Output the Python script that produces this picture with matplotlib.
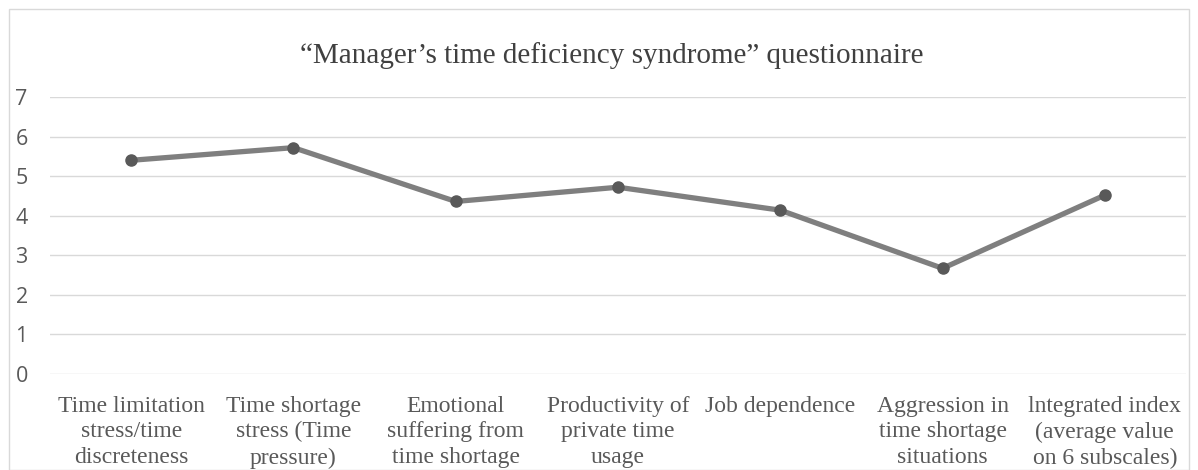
import matplotlib.pyplot as plt
from matplotlib.patches import Rectangle

# scale labels and mean scores
categories = [
    'Time limitation\nstress/time\ndiscreteness',
    'Time shortage\nstress (Time\npressure)',
    'Emotional\nsuffering from\ntime shortage',
    'Productivity of\nprivate time\nusage',
    'Job dependence',
    'Aggression in\ntime shortage\nsituations',
    'lntegrated index\n(average value\non 6 subscales)',
]
scores = [5.40, 5.72, 4.36, 4.72, 4.14, 2.67, 4.52]
yticks = [0, 1, 2, 3, 4, 5, 6, 7]

fig = plt.figure(figsize=(11.98, 4.70), dpi=100)
ax = fig.add_axes([50 / 1198, (470 - 374) / 470, 1136 / 1198, 277 / 470])

x = list(range(len(categories)))
ax.plot(x, scores, color='#7f7f7f', linewidth=3.8, marker='o', markersize=8,
        markerfacecolor='#595959', markeredgecolor='#595959', zorder=3)

ax.set_xlim(-0.5, len(categories) - 0.5)
ax.set_ylim(0, 7)
ax.set_yticks(yticks)
ax.set_yticklabels([str(v) for v in yticks], fontsize=15.5, color='#595959',
                   family='Open Sans')
ax.set_xticks(x)
ax.set_xticklabels(categories, fontsize=17, color='#595959',
                   family='Liberation Serif', linespacing=1.3, va='top')
ax.tick_params(axis='both', length=0)
ax.tick_params(axis='y', pad=16)
ax.tick_params(axis='x', pad=15.5)
ax.grid(axis='y', color='#d9d9d9', linewidth=1)
ax.set_axisbelow(True)
for s in ax.spines.values():
    s.set_visible(False)

fig.text(612 / 1198, 1 - 56 / 470,
         u'\u201cManager\u2019s time deficiency syndrome\u201d questionnaire',
         ha='center', va='center', fontsize=21, color='#404040',
         family='Liberation Serif')

# chart area border
fig.patches.append(Rectangle((9 / 1198, 0), 1 - 18 / 1198, 1 - 9 / 470,
                             transform=fig.transFigure, fill=False,
                             edgecolor='#d9d9d9', linewidth=1))

fig.savefig('out.png', dpi=100)
